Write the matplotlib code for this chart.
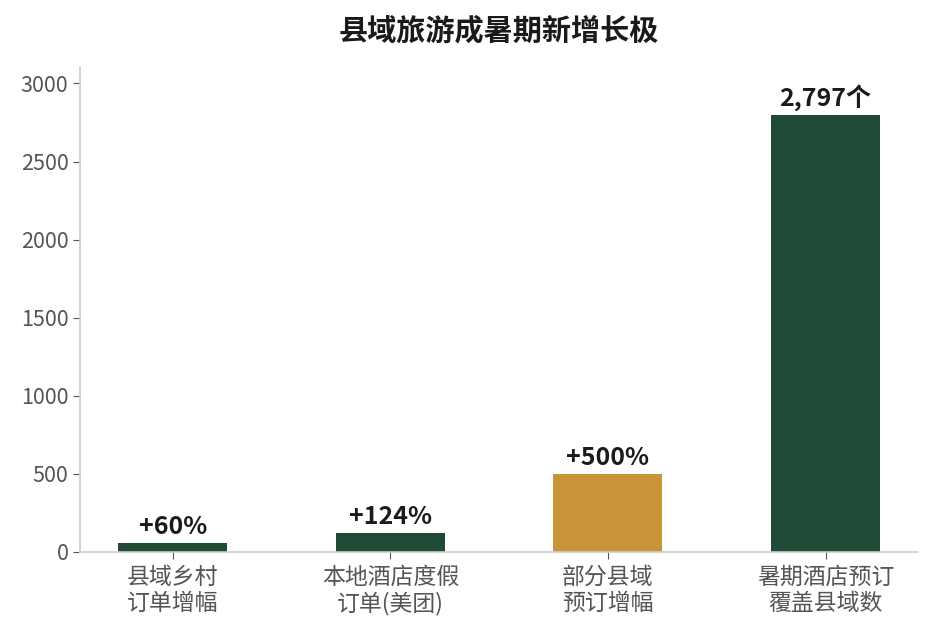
import matplotlib
matplotlib.use("Agg")
import matplotlib.pyplot as plt

plt.rcParams['font.family'] = ['Noto Sans CJK SC', 'DejaVu Sans']

categories = ["县域乡村\n订单增幅", "本地酒店度假\n订单(美团)", "部分县域\n预订增幅", "暑期酒店预订\n覆盖县域数"]
values = [60, 124, 500, 2797]
labels = ["+60%", "+124%", "+500%", "2,797个"]
colors = ["#1f4a36", "#1f4a36", "#c8943a", "#1f4a36"]

fig = plt.figure(figsize=(9.32, 6.33), dpi=100)
ax = fig.add_axes([0.086, 0.128, 0.899, 0.766])

x = range(len(values))
bars = ax.bar(x, values, width=0.5, color=colors)

for b, lab in zip(bars, labels):
    ax.text(b.get_x() + b.get_width() / 2, b.get_height() + 25, lab,
            ha="center", va="bottom", fontsize=18, fontweight="bold", color="#1a1a1a")

ax.set_xticks(list(x))
ax.set_xticklabels(categories, fontsize=16.5, color="#555555", linespacing=1.15)
ax.set_ylim(0, 3105)
ax.set_yticks(range(0, 3001, 500))
ax.tick_params(axis="y", labelsize=15.5, labelcolor="#555555", color="#555555", length=5)
ax.tick_params(axis="x", color="#555555", length=5, pad=5)

for s in ["top", "right"]:
    ax.spines[s].set_visible(False)
for s in ["left", "bottom"]:
    ax.spines[s].set_color("#cccccc")
    ax.spines[s].set_linewidth(1.2)

ax.set_title("县域旅游成暑期新增长极", fontsize=21, fontweight="bold", color="#1a1a1a", pad=20)

fig.savefig("out.png", dpi=100)
